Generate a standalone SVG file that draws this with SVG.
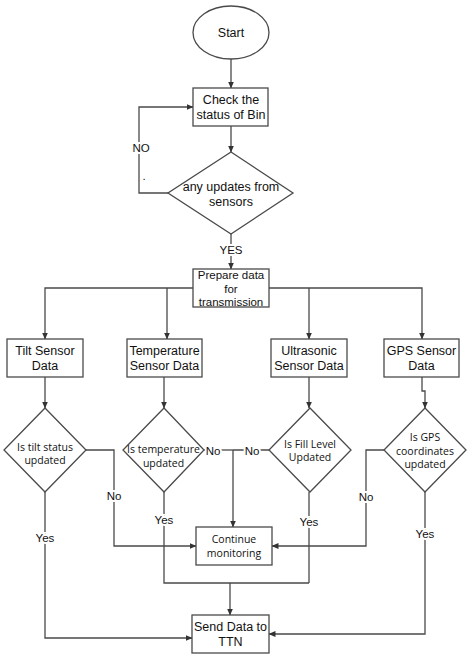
<svg xmlns="http://www.w3.org/2000/svg" width="469" height="658" viewBox="0 0 469 658">
<defs>
<marker id="ah" markerWidth="7" markerHeight="6" refX="6.5" refY="3" orient="auto" markerUnits="userSpaceOnUse">
<path d="M0,0 L7,3 L0,6 Z" fill="#333"/>
</marker>
<style>
.shape{fill:#fff;stroke:#4a4a4a;stroke-width:1.3}
.line{fill:none;stroke:#4a4a4a;stroke-width:1.3}
.arr{marker-end:url(#ah)}
.t{font-family:"Liberation Sans",Arial,sans-serif;font-size:12.5px;fill:#111;text-anchor:middle}
.s{font-family:"Liberation Sans",Arial,sans-serif;font-size:11.5px;fill:#111;text-anchor:middle}
.d{font-family:"Open Sans","Noto Sans",sans-serif;font-size:10.5px;fill:#111;text-anchor:middle}
.lb{font-family:"Liberation Sans",Arial,sans-serif;font-size:11.5px;fill:#111;text-anchor:middle;stroke:#fff;stroke-width:4;paint-order:stroke}
</style>
</defs>
<rect width="469" height="658" fill="#fff"/>
<g id="connectors">
<path class="line arr" d="M231 59 V88"/>
<path class="line arr" d="M231 126 V152"/>
<path class="line arr" d="M168 193 H139 V107 H193"/>
<path class="line arr" d="M231 234 V269"/>
<path class="line arr" d="M193 288 H45 V339"/>
<path class="line arr" d="M167 288 V339"/>
<path class="line arr" d="M269 288 H422 V339"/>
<path class="line arr" d="M309 288 V339"/>
<path class="line arr" d="M45 377 V408"/>
<path class="line arr" d="M164 377 V408"/>
<path class="line arr" d="M309 377 V408"/>
<path class="line arr" d="M422 377 V391 H425 V408"/>
<path class="line arr" d="M86 450 H114 V546 H196"/>
<path class="line" d="M204 450 H233"/>
<path class="line" d="M269 450 H233"/>
<path class="line arr" d="M233 450 V527"/>
<path class="line arr" d="M384 450 H366 V546 H272"/>
<path class="line arr" d="M45 492 V638 H192"/>
<path class="line" d="M164 492 V583 H309"/>
<path class="line" d="M309 492 V583"/>
<path class="line arr" d="M230 583 V615"/>
<path class="line arr" d="M425 492 V634 H269"/>
</g>
<g id="labels">
<text class="lb" x="141" y="152">NO</text>
<text class="lb" x="144" y="180" font-size="8">.</text>
<text class="lb" x="231" y="254">YES</text>
<text class="lb" x="114" y="500">No</text>
<text class="lb" x="45" y="542">Yes</text>
<text class="lb" x="213" y="455">No</text>
<text class="lb" x="252" y="455">No</text>
<text class="lb" x="164" y="524">Yes</text>
<text class="lb" x="309" y="526">Yes</text>
<text class="lb" x="366" y="501">No</text>
<text class="lb" x="425" y="538">Yes</text>
</g>
<g id="start">
<ellipse class="shape" cx="231" cy="32.5" rx="38" ry="26.5"/>
<text class="t" x="231" y="37">Start</text>
</g>
<g id="check">
<rect class="shape" x="193" y="88" width="75" height="38"/>
<text class="t" x="231" y="104">Check the</text>
<text class="t" x="231" y="119">status of Bin</text>
</g>
<g id="updates">
<polygon class="shape" points="231,152 293,193 231,234 168,193"/>
<text class="t" x="231" y="191">any updates from</text>
<text class="t" x="231" y="206">sensors</text>
</g>
<g id="prepare">
<rect class="shape" x="193" y="269" width="76" height="38"/>
<text class="s" x="231" y="279">Prepare data</text>
<text class="s" x="231" y="292.5">for</text>
<text class="s" x="231" y="306">transmission</text>
</g>
<g id="tilt">
<rect class="shape" x="7" y="339" width="76" height="38"/>
<text class="t" x="45" y="355">Tilt Sensor</text>
<text class="t" x="45" y="370">Data</text>
</g>
<g id="temp">
<rect class="shape" x="127" y="339" width="75" height="38"/>
<text class="t" x="164.5" y="355">Temperature</text>
<text class="t" x="164.5" y="370">Sensor Data</text>
</g>
<g id="ultra">
<rect class="shape" x="271" y="339" width="76" height="38"/>
<text class="t" x="309" y="355">Ultrasonic</text>
<text class="t" x="309" y="370">Sensor Data</text>
</g>
<g id="gps">
<rect class="shape" x="384" y="339" width="75" height="38"/>
<text class="t" x="421.5" y="355">GPS Sensor</text>
<text class="t" x="421.5" y="370">Data</text>
</g>
<g id="tiltq">
<polygon class="shape" points="45,408 86,450 45,492 4,450"/>
<text class="d" x="45" y="450.5">Is tilt status</text>
<text class="d" x="45" y="464">updated</text>
</g>
<g id="tempq">
<polygon class="shape" points="164,408 204,450 164,492 123,450"/>
<text class="d" x="163.5" y="453">Is temperature</text>
<text class="d" x="163.5" y="466.5">updated</text>
</g>
<g id="ultraq">
<polygon class="shape" points="310,408 351,450 310,492 269,450"/>
<text class="d" x="310" y="448">Is Fill Level</text>
<text class="d" x="310" y="461">Updated</text>
</g>
<g id="gpsq">
<polygon class="shape" points="425,408 466,450 425,492 384,450"/>
<text class="d" x="425" y="440.5">Is GPS</text>
<text class="d" x="425" y="454.5">coordinates</text>
<text class="d" x="425" y="468">updated</text>
</g>
<g id="continue">
<rect class="shape" x="196" y="527" width="76" height="38"/>
<text class="d" x="234" y="543">Continue</text>
<text class="d" x="234" y="556.5">monitoring</text>
</g>
<g id="send">
<rect class="shape" x="192" y="615" width="77" height="38"/>
<text class="t" x="230.5" y="631">Send Data to</text>
<text class="t" x="230.5" y="646">TTN</text>
</g>
</svg>
